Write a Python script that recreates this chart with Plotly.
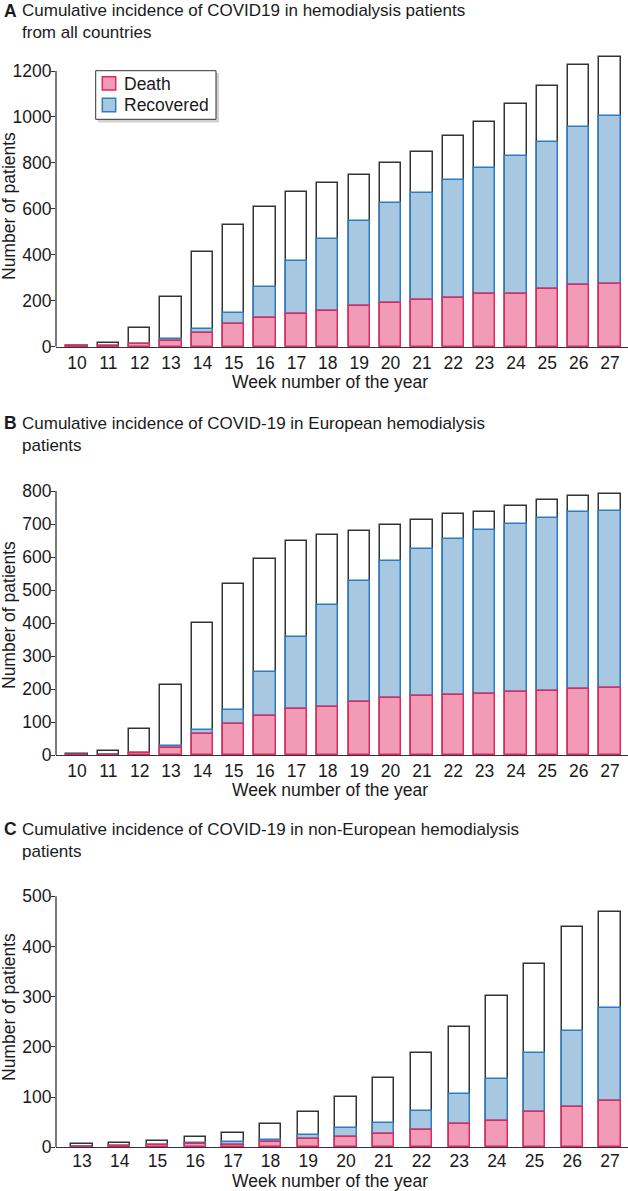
import plotly.graph_objects as go

# ---------------- data ----------------
weeks_ab = list(range(10, 28))
weeks_c = list(range(13, 28))

death_a = [1, 1, 10, 25, 61, 100, 125, 142, 157, 176, 190, 202, 210, 228, 231, 252, 267, 274]
recovered_a = [0, 0, 0, 8, 17, 45, 136, 231, 312, 372, 437, 468, 514, 551, 598, 637, 688, 732]
total_a = [5, 17, 80, 218, 411, 530, 609, 675, 711, 749, 798, 849, 917, 979, 1056, 1136, 1228, 1262]

death_b = [1, 1, 7, 22, 63, 93, 119, 139, 146, 162, 173, 178, 183, 184, 191, 195, 201, 202]
recovered_b = [0, 0, 0, 5, 13, 44, 134, 219, 310, 364, 416, 447, 472, 498, 509, 524, 536, 536]
total_b = [4, 12, 80, 211, 399, 518, 594, 647, 667, 678, 696, 711, 730, 737, 756, 772, 785, 791]

death_c = [1, 2, 4, 6, 5, 10, 17, 21, 26, 35, 46, 53, 70, 80, 92]
recovered_c = [0, 0, 0, 3, 6, 4, 7, 18, 22, 37, 60, 84, 117, 151, 186]
total_c = [6, 9, 13, 20, 28, 47, 70, 101, 138, 187, 240, 302, 365, 439, 469]

titles = [
    ("A", "Cumulative incidence of COVID19 in hemodialysis patients<br>from all countries"),
    ("B", "Cumulative incidence of COVID-19 in European hemodialysis<br>patients"),
    ("C", "Cumulative incidence of COVID-19 in non-European hemodialysis<br>patients"),
]
y_label = "Number of patients"
x_label = "Week number of the year"
legend_names = ["Death", "Recovered"]

# ---------------- style ----------------
W, H = 628, 1191
FONT = "Arial, Liberation Sans, Helvetica, sans-serif"
PINK, PINK_LINE = "#F29BB7", "#DD2A5E"
BLUE, BLUE_LINE = "#A7C8E0", "#2B7CC3"
DARK = "#333333"
TXT = "#1a1a1a"


def px_x(p):
    return p / W


def px_y(p):
    return 1 - p / H


fig = go.Figure()

panels = [
    dict(weeks=weeks_ab, death=death_a, rec=recovered_a, total=total_a, ax="", width=0.68,
         base_px=346.7, top_px=52, unit_px=275.7 / 1200, xr=[9.33, 27.574], ymax_tick=1200, dtick=200,
         xstand=0),
    dict(weeks=weeks_ab, death=death_b, rec=recovered_b, total=total_b, ax="2", width=0.68,
         base_px=755.0, top_px=488, unit_px=264.0 / 800, xr=[9.33, 27.574], ymax_tick=800, dtick=100,
         xstand=0),
    dict(weeks=weeks_c, death=death_c, rec=recovered_c, total=total_c, ax="3", width=0.565,
         base_px=1147.3, top_px=890, unit_px=251.0 / 500, xr=[12.31, 27.477], ymax_tick=500, dtick=100,
         xstand=-2),
]

for i, p in enumerate(panels):
    xa, ya = "x" + p["ax"], "y" + p["ax"]
    fig.add_trace(go.Bar(x=p["weeks"], y=p["total"], width=p["width"], xaxis=xa, yaxis=ya,
                         marker=dict(color="white", line=dict(color=DARK, width=1.5)),
                         showlegend=False, name="Total", hoverinfo="skip"))
    fig.add_trace(go.Bar(x=p["weeks"], y=p["rec"], base=p["death"], width=p["width"], xaxis=xa, yaxis=ya,
                         marker=dict(color=BLUE, line=dict(color=BLUE_LINE, width=1.5)),
                         showlegend=False, name=legend_names[1]))
    fig.add_trace(go.Bar(x=p["weeks"], y=p["death"], width=p["width"], xaxis=xa, yaxis=ya,
                         marker=dict(color=PINK, line=dict(color=PINK_LINE, width=1.5)),
                         showlegend=False, name=legend_names[0]))

    ymax = (p["base_px"] - p["top_px"]) / p["unit_px"]
    dom_y = [px_y(p["base_px"]), px_y(p["top_px"])]
    fig.layout["xaxis" + p["ax"]] = dict(
        domain=[px_x(56), 1.0], range=p["xr"], anchor=ya, automargin=False,
        tickmode="array", tickvals=p["weeks"], ticktext=[str(w) for w in p["weeks"]],
        showline=True, linecolor=DARK, linewidth=1.3, ticks="", showgrid=False, zeroline=False,
        ticklabelstandoff=p["xstand"],
        tickfont=dict(size=17.5, color=TXT, family=FONT), fixedrange=True,
    )
    fig.layout["yaxis" + p["ax"]] = dict(
        domain=dom_y, range=[0, ymax], anchor=xa, automargin=False,
        tickmode="linear", tick0=0, dtick=p["dtick"],
        showline=False, ticks="outside", ticklen=4, tickwidth=1.3, tickcolor=DARK,
        ticklabelstandoff=-4,
        showgrid=False, zeroline=False,
        tickfont=dict(size=17.5, color=TXT, family=FONT), fixedrange=True,
    )
    # y axis line only up to the top tick
    fig.add_shape(type="line", xref=xa + " domain", yref=ya, x0=0, x1=0, y0=0, y1=p["ymax_tick"],
                  line=dict(color=DARK, width=1.3))

# ---------------- legend box (panel A) ----------------
fig.add_shape(type="rect", xref="paper", yref="paper",
              x0=px_x(98.0), x1=px_x(219.0), y0=px_y(122.5), y1=px_y(73.0),
              fillcolor="rgba(0,0,0,0.18)", line=dict(width=0), layer="above")
fig.add_shape(type="rect", xref="paper", yref="paper",
              x0=px_x(95.7), x1=px_x(216.0), y0=px_y(119.3), y1=px_y(70.7),
              fillcolor="white", line=dict(color=DARK, width=1), layer="above")
fig.add_shape(type="rect", xref="paper", yref="paper",
              x0=px_x(102.3), x1=px_x(115.7), y0=px_y(90.0), y1=px_y(76.7),
              fillcolor=PINK, line=dict(color=PINK_LINE, width=1.5), layer="above")
fig.add_shape(type="rect", xref="paper", yref="paper",
              x0=px_x(102.3), x1=px_x(115.7), y0=px_y(111.7), y1=px_y(98.3),
              fillcolor=BLUE, line=dict(color=BLUE_LINE, width=1.5), layer="above")

ann = []
for name, yc in zip(legend_names, [83.5, 105.0]):
    ann.append(dict(text=name, x=px_x(121.5), y=px_y(yc), xref="paper", yref="paper",
                    xanchor="left", yanchor="middle", showarrow=False,
                    font=dict(size=17.5, color=TXT, family=FONT)))

title_line1 = [10.5, 423.3, 829.0]
for (letter, text), y1 in zip(titles, title_line1):
    ann.append(dict(text="<b>" + letter + "</b>", x=px_x(1.5), y=px_y(y1), xref="paper", yref="paper",
                    xanchor="left", yanchor="middle", showarrow=False,
                    font=dict(size=17.5, color=TXT, family=FONT)))
    ann.append(dict(text=text, x=px_x(19.5), y=px_y(y1 + 11.05), xref="paper", yref="paper",
                    xanchor="left", yanchor="middle", align="left", showarrow=False,
                    font=dict(size=17, color=TXT, family=FONT)))

for yc in [206, 615, 1007]:
    ann.append(dict(text=y_label, textangle=-90, x=px_x(9.0), y=px_y(yc), xref="paper", yref="paper",
                    xanchor="center", yanchor="middle", showarrow=False,
                    font=dict(size=17.5, color=TXT, family=FONT)))
for yc in [381.7, 789.5, 1181.3]:
    ann.append(dict(text=x_label, x=px_x(330), y=px_y(yc), xref="paper", yref="paper",
                    xanchor="center", yanchor="middle", showarrow=False,
                    font=dict(size=17.5, color=TXT, family=FONT)))

fig.update_layout(
    width=W, height=H,
    margin=dict(l=0, r=0, t=0, b=0, pad=0, autoexpand=False),
    paper_bgcolor="white", plot_bgcolor="white",
    barmode="overlay", bargap=0,
    font=dict(family=FONT, color=TXT, size=17.5),
    annotations=ann,
    showlegend=False,
)

fig.write_html("out.html", config={"displayModeBar": False},
               post_script="document.body.style.margin='0px';document.body.style.overflow='hidden';")
